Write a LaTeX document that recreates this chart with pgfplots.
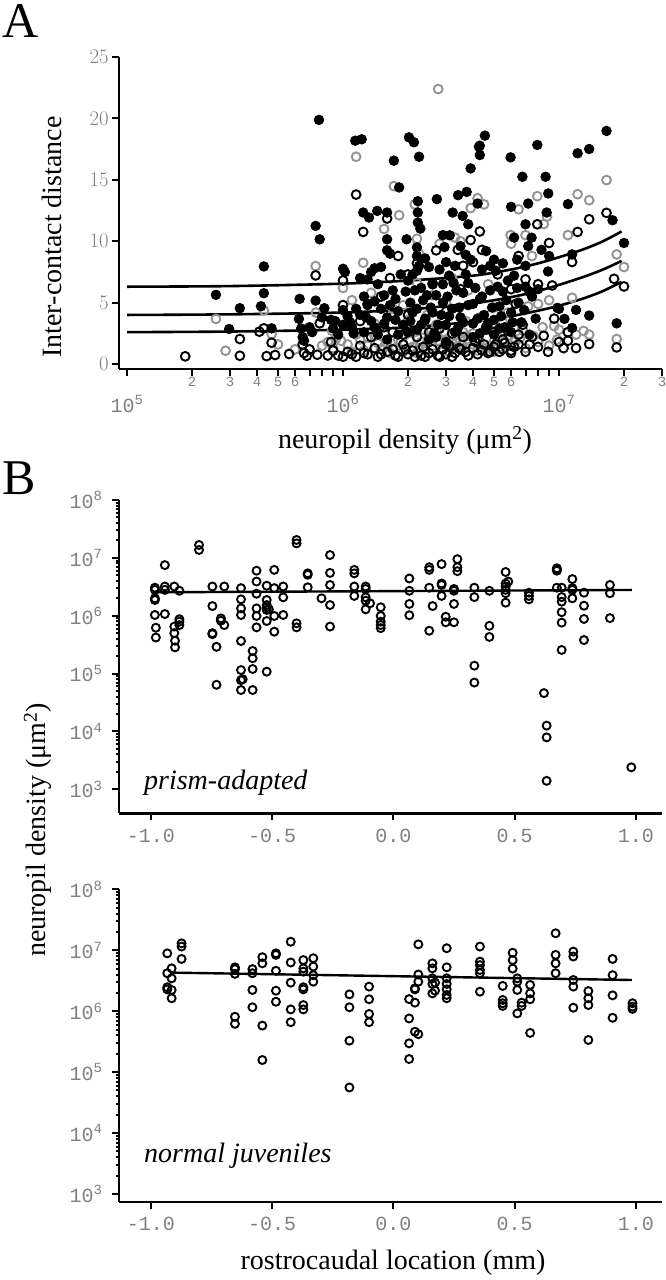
\documentclass[border=0pt]{standalone}
\usepackage{pgfplots}
\pgfplotsset{compat=1.18}
\usepackage{fontspec}
\setmainfont{Liberation Serif}
\newfontfamily\monofont{Liberation Mono}
\definecolor{tickgray}{gray}{0.5}
\definecolor{ptgray}{gray}{0.58}
\pgfplotsset{
  myaxis/.style={
    scale only axis,
    axis lines=left,
    axis line style={-, line width=2.4pt},
    tick align=outside,
    major tick length=7pt,
    tick style={black, line width=2pt},
    tick label style={font=\monofont\fontsize{20}{20}\selectfont, text=tickgray},
    clip=false,
  },
  fillA/.style={only marks, mark=*, mark size=4.8pt, mark options={draw=black, fill=black, line width=0.8pt}},
  openA/.style={only marks, mark=o, mark size=4.4pt, mark options={draw=black, line width=1.9pt}},
  grayA/.style={only marks, mark=o, mark size=4.4pt, mark options={draw=ptgray, line width=1.9pt}},
  openB/.style={only marks, mark=o, mark size=4.0pt, mark options={draw=black, line width=1.9pt}},
}
\begin{document}
\begin{tikzpicture}
\useasboundingbox (0,0) rectangle (665pt,-1280pt);
% ---------------- Panel A ----------------
\begin{axis}[myaxis, at={(119pt,-369pt)}, anchor=south west, width=543pt, height=312pt,
  xmode=log, xmin=9.18e4, xmax=3e7, ymin=-0.4, ymax=25,
  ytick={0,5,10,15,20,25},
  xtick={2e5,3e5,4e5,5e5,6e5,7e5,8e5,9e5,2e6,3e6,4e6,5e6,6e6,7e6,8e6,9e6,2e7,3e7},
  xticklabels={2,3,4,5,6,,,,2,3,4,5,6,,,,2,3},
  xticklabel style={font=\monofont\fontsize{14}{14}\selectfont, yshift=2pt},
  extra x ticks={1e5,1e6,1e7},
  extra x tick labels={10\textsuperscript{5},10\textsuperscript{6},10\textsuperscript{7}},
  extra x tick style={xticklabel style={font=\monofont\fontsize{20}{20}\selectfont, yshift=-18pt}},
]
\addplot[grayA] coordinates {
(2.58e5,3.68)(2.86e5,1.09)(4.3e5,4.36)(4.67e5,2.45)(6.6e5,2.6)(7.47e5,7.98)(7.5e5,4.2)(8.0e5,1.5)(8.5e5,1.8)(9.0e5,1.3)(9.3e5,2.1)
(1.0e6,6.2)(1.15e6,16.88)(1.24e6,8.25)(1.2e6,2.0)(1.3e6,1.5)(1.35e6,5.8)(1.4e6,2.3)(1.5e6,1.2)(1.55e6,11.0)(1.6e6,1.8)
(1.72e6,14.49)(1.82e6,12.12)(1.7e6,4.5)(1.75e6,1.3)(1.8e6,2.0)(1.9e6,1.0)(2.0e6,2.5)(2.1e6,1.4)(2.15e6,13.0)(2.2e6,10.2)
(2.25e6,9.0)(2.3e6,1.8)(2.4e6,1.1)(2.5e6,2.2)(2.6e6,1.5)(2.76e6,22.39)(2.8e6,9.8)(2.7e6,3.2)(2.9e6,1.2)(3.0e6,2.0)
(3.1e6,1.0)(3.2e6,1.8)(3.3e6,10.3)(3.4e6,2.4)(3.5e6,10.0)(3.6e6,1.3)(3.7e6,3.5)(3.8e6,2.0)(3.9e6,12.7)(4.0e6,1.6)
(4.2e6,13.5)(4.5e6,13.0)(4.6e6,2.8)(4.8e6,1.5)(5.0e6,4.6)(5.2e6,2.2)(5.6e6,1.8)(5.97e6,10.5)(6.0e6,9.8)(6.2e6,3.0)
(6.5e6,12.6)(7.0e6,10.5)(7.94e6,13.67)(7.5e6,8.8)(7.2e6,4.7)(8.0e6,4.9)(8.5e6,11.4)(8.8e6,12.0)(9.0e6,5.2)(9.5e6,3.1)
(1.0e7,2.8)(1.1e7,10.5)(1.15e7,5.4)(1.22e7,13.83)(1.38e7,13.34)(1.2e7,2.4)(1.3e7,2.7)(1.38e7,2.4)(1.66e7,14.98)(1.85e7,8.93)
(2.0e7,7.9)(1.85e7,2.04)(5.0e5,1.6)(6.0e5,1.2)(1.1e6,1.0)(1.45e6,2.7)(2.0e6,3.6)(2.45e6,4.0)(3.0e6,5.0)(3.8e6,6.0)
(4.3e6,3.8)(5.5e6,3.4)(6.6e6,2.1)(7.0e6,1.3)(8.0e6,1.8)(9.0e6,1.5)(1.25e6,1.1)(1.65e6,0.9)(2.2e6,0.9)(2.8e6,1.6)
(3.3e6,1.4)(4.2e6,1.1)(5.0e6,1.0)(6.0e6,1.5)(1.4e6,3.3)(2.35e6,2.8)(3.6e6,2.6)(4.9e6,2.7)
(1.05e6,1.6)(1.15e6,2.4)(1.3e6,2.2)(1.45e6,1.7)(1.55e6,1.4)(1.7e6,1.9)(1.85e6,1.2)(1.95e6,2.8)(2.05e6,1.9)(2.15e6,2.6)
(2.25e6,1.3)(2.45e6,1.7)(2.6e6,2.4)(2.75e6,1.9)(2.95e6,2.6)(3.15e6,2.2)(3.35e6,1.9)(3.55e6,1.6)(3.75e6,2.3)(4.0e6,2.5)
(4.3e6,1.9)(4.6e6,1.3)(5.0e6,1.9)(5.4e6,1.4)(5.8e6,2.3)(6.3e6,1.9)(6.8e6,2.8)(7.6e6,2.3)(8.4e6,3.0)(9.8e6,2.0)
(2.2e6,6.6)(2.6e6,5.6)(1.9e6,4.8)(3.2e6,7.0)(4.7e6,6.5)(5.8e6,4.2)(8.9e5,2.7)(9.8e5,1.9)(1.1e6,5.2)
};
\addplot[openA] coordinates {
(1.86e5,0.63)(3.33e5,2.04)(3.33e5,0.68)(4.1e5,2.64)(4.3e5,2.91)(4.67e5,1.74)(4.43e5,0.65)(4.85e5,0.74)(5.63e5,0.82)(6.5e5,1.6)
(6.6e5,0.9)(6.8e5,0.68)(7.47e5,7.22)(7.8e5,3.32)(7.6e5,0.76)(7.0e5,1.2)(8.5e5,0.7)(9.0e5,1.1)(9.5e5,0.7)(1.0e6,6.81)
(1.0e6,4.8)(1.15e6,13.8)(1.24e6,10.76)(1.05e6,1.0)(1.1e6,0.8)(1.2e6,1.5)(1.3e6,0.8)(1.4e6,1.3)(1.5e6,0.8)(1.6e6,11.85)
(1.8e6,8.8)(1.65e6,7.0)(1.55e6,3.0)(1.7e6,1.2)(1.75e6,0.7)(1.9e6,1.6)(2.0e6,0.8)(2.1e6,1.1)(2.2e6,8.2)(2.3e6,0.7)
(2.35e6,1.4)(2.5e6,0.9)(2.7e6,9.26)(2.75e6,0.7)(2.9e6,1.2)(3.0e6,0.8)(3.1e6,1.5)(3.3e6,0.9)(3.4e6,9.3)(3.5e6,1.2)
(3.6e6,8.0)(3.7e6,1.0)(3.9e6,10.1)(4.0e6,1.3)(4.2e6,0.8)(4.3e6,10.8)(4.4e6,9.3)(4.5e6,1.6)(4.8e6,1.0)(5.0e6,1.4)
(5.3e6,1.0)(5.6e6,1.7)(6.0e6,1.1)(6.2e6,1.4)(7.94e6,11.38)(1.38e7,11.79)(1.22e7,10.76)(9.0e6,9.86)(1.66e7,12.31)(1.8e7,6.94)
(2.0e7,6.32)(1.15e7,8.31)(6.5e6,8.8)(7.0e6,6.9)(8.0e6,6.5)(9.3e6,6.4)(1.0e7,1.8)(1.1e7,1.9)(1.2e7,1.3)(1.38e7,1.63)
(1.85e7,1.36)(7.0e6,1.0)(8.0e6,1.4)(9.5e6,3.7)(1.1e7,2.6)(2.4e6,3.6)(3.2e6,2.5)(4.6e6,3.0)(5.8e6,2.7)(1.3e6,4.9)
(2.0e6,7.3)(2.6e6,6.5)(3.5e6,6.1)(4.0e6,8.3)(5.2e6,7.3)(6.0e6,6.1)(7.5e6,2.2)(8.5e6,2.3)(1.2e6,3.5)(1.5e6,5.5)
(8.8e5,1.8)(2.2e6,2.2)(1.7e6,2.6)(2.8e6,2.9)(4.2e6,2.1)(5.5e6,2.0)(6.5e6,2.4)(2.0e6,4.0)(3.0e6,4.3)(6.3e6,4.9)
(1.0e6,0.6)(1.15e6,0.6)(1.25e6,0.9)(1.45e6,0.6)(1.6e6,1.0)(1.8e6,0.6)(1.95e6,1.2)(2.15e6,0.6)(2.4e6,0.6)(2.6e6,1.2)
(2.8e6,0.6)(3.0e6,1.6)(3.2e6,0.6)(3.45e6,1.3)(3.8e6,0.7)(4.1e6,1.8)(4.4e6,1.1)(4.7e6,0.9)(5.1e6,1.6)(5.5e6,1.2)
(6.0e6,0.9)(6.5e6,1.6)(7.3e6,1.6)(1.35e6,2.2)(1.9e6,2.4)(2.5e6,2.6)(3.6e6,2.2)(5.0e6,2.6)(6.8e6,3.2)(8.9e6,1.0)(1.05e7,1.3)
};
\addplot[fillA] coordinates {
(2.58e5,5.64)(2.97e5,2.86)(3.33e5,4.55)(4.17e5,4.71)(4.3e5,7.95)(4.3e5,5.77)(4.67e5,2.91)(6.3e5,5.31)(6.25e5,3.68)(6.4e5,2.9)
(6.5e5,2.2)(6.6e5,1.9)(7.74e5,19.88)(7.47e5,11.25)(7.8e5,10.16)(7.47e5,5.17)(8.2e5,4.55)(7.0e5,3.0)(7.2e5,2.6)(8.8e5,3.6)
(9.2e5,3.5)(9.5e5,2.4)(1.0e6,7.76)(1.02e6,7.49)(1.0e6,4.4)(1.05e6,3.9)(1.08e6,3.4)(1.1e6,3.0)(1.12e6,2.5)(1.14e6,18.19)
(1.22e6,18.3)(1.24e6,12.34)(1.32e6,11.93)(1.44e6,12.47)(1.6e6,12.34)(1.6e6,10.16)(1.6e6,9.26)(1.72e6,16.56)(1.82e6,14.38)(1.65e6,8.99)
(1.97e6,10.16)(2.02e6,18.46)(2.13e6,18.06)(2.25e6,16.88)(2.22e6,13.26)(2.22e6,12.34)(2.22e6,11.52)(2.28e6,11.03)(2.2e6,9.5)(2.2e6,8.8)
(2.25e6,8.0)(2.72e6,13.43)(3.22e6,12.34)(3.41e6,13.75)(3.74e6,14.02)(3.58e6,12.06)(3.9e6,15.93)(4.26e6,17.7)(3.8e6,11.38)(4.2e6,13.07)
(2.95e6,9.53)(3.12e6,10.48)(4.54e6,18.6)(4.3e6,17.78)(4.3e6,17.02)(5.97e6,16.83)(7.94e6,17.84)(1.66e7,18.98)(1.22e7,17.16)(1.38e7,17.51)
(6.77e6,15.25)(8.67e6,15.25)(8.92e6,13.89)(7.2e6,13.07)(1.1e7,13.02)(6.0e6,12.8)(8.77e6,12.34)(1.77e7,11.71)(7.0e6,11.38)(7.47e6,10.29)
(2.0e7,9.86)(1.15e7,8.93)(8.9e6,7.54)(9.84e6,4.58)(1.2e7,4.41)(1.38e7,3.95)(1.06e7,3.68)(1.15e7,2.94)(1.85e7,3.32)
(1.2e6,7.0)(1.3e6,6.9)(1.35e6,7.5)(1.4e6,7.8)(1.5e6,7.9)(1.45e6,6.5)(1.25e6,5.5)(1.3e6,4.8)(1.2e6,4.0)(1.35e6,3.5)
(1.4e6,3.0)(1.25e6,2.6)(1.5e6,4.5)(1.55e6,5.6)(1.6e6,3.8)(1.7e6,6.0)(1.75e6,5.3)(1.8e6,4.3)(1.85e6,7.3)(1.9e6,3.2)
(2.0e6,6.8)(2.05e6,5.0)(2.1e6,4.2)(2.1e6,7.3)(2.2e6,2.8)(2.3e6,6.2)(2.35e6,5.2)(2.4e6,3.7)(2.5e6,7.9)(2.55e6,4.6)
(2.6e6,6.6)(2.65e6,2.5)(2.7e6,5.6)(2.8e6,7.7)(2.85e6,4.0)(2.9e6,6.5)(3.0e6,3.2)(3.05e6,5.5)(3.1e6,7.2)(3.2e6,4.5)
(3.3e6,8.0)(3.35e6,6.0)(3.4e6,2.9)(3.5e6,3.8)(3.6e6,5.8)(3.7e6,7.3)(3.8e6,4.8)(3.9e6,8.5)(4.0e6,3.3)(4.1e6,6.2)
(4.3e6,5.3)(4.4e6,7.7)(4.5e6,4.0)(4.6e6,2.8)(4.8e6,6.0)(5.0e6,3.6)(5.1e6,7.6)(5.3e6,4.7)(5.5e6,5.9)(5.6e6,3.0)
(5.8e6,6.8)(6.0e6,4.2)(6.2e6,7.2)(6.5e6,5.0)(6.7e6,3.4)(7.0e6,6.3)(7.3e6,2.4)(7.5e6,5.5)(8.0e6,6.1)(8.3e6,9.3)
(7.8e6,3.7)(9.0e6,8.8)(1.0e7,4.5)(3.5e6,9.6)(4.6e6,9.2)(2.9e6,10.5)(5.5e6,8.2)(6.2e6,10.3)(7.2e6,9.6)(5.0e6,8.5)
(2.2e6,4.5)(1.8e6,2.4)(2.5e6,2.0)(3.0e6,1.8)(1.6e6,2.0)(4.0e6,2.2)(5.0e6,2.4)(6.0e6,2.6)
(1.15e6,4.5)(1.28e6,3.8)(1.4e6,5.1)(1.55e6,3.3)(1.65e6,4.8)(1.75e6,3.6)(1.95e6,5.9)(2.05e6,3.5)(2.15e6,6.0)(2.3e6,3.2)
(2.45e6,5.6)(2.6e6,4.2)(2.75e6,3.2)(2.9e6,5.0)(3.1e6,3.9)(3.25e6,6.6)(3.45e6,4.6)(3.6e6,3.4)(3.8e6,6.6)(4.0e6,4.9)
(4.2e6,3.7)(4.4e6,5.5)(4.7e6,3.3)(4.9e6,4.6)(5.2e6,6.3)(5.4e6,3.9)(5.7e6,5.2)(6.1e6,3.4)(6.4e6,6.2)(6.9e6,4.4)
(7.3e6,5.9)(2.0e6,2.6)(2.7e6,2.2)(3.3e6,2.6)(4.3e6,2.5)(5.3e6,2.9)(1.45e6,2.4)(9.0e5,2.9)(1.0e6,3.2)(8.0e5,3.8)
(2.2e6,7.6)(3.0e6,8.3)(2.4e6,8.6)(3.7e6,8.9)(4.8e6,8.0)(6.4e6,8.5)(7.0e6,8.0)
};
\addplot[black, line width=2.6pt, smooth] coordinates {(1e5,6.3)(3e5,6.35)(1e6,6.55)(2e6,6.8)(4e6,7.2)(6e6,7.7)(8e6,8.2)(1e7,8.7)(1.3e7,9.35)(1.6e7,10.0)(1.95e7,10.8)};
\addplot[black, line width=2.6pt, smooth] coordinates {(1e5,4.0)(3e5,4.05)(1e6,4.2)(2e6,4.45)(4e6,4.95)(6e6,5.45)(8e6,5.95)(1e7,6.45)(1.3e7,7.1)(1.6e7,7.7)(1.95e7,8.4)};
\addplot[black, line width=2.6pt, smooth] coordinates {(1e5,2.6)(3e5,2.65)(1e6,2.8)(2e6,3.0)(4e6,3.45)(6e6,3.9)(8e6,4.35)(1e7,4.75)(1.3e7,5.35)(1.6e7,5.95)(1.95e7,6.7)};
\end{axis}
% ---------------- Panel B top ----------------
\begin{axis}[myaxis, at={(119pt,-813.3pt)}, anchor=south west, width=542.6pt, height=313.3pt,
  xmin=-1.131, xmax=1.106, ymode=log, ymin=385, ymax=1e8,
  xtick={-1,-0.5,0,0.5,1}, xticklabels={-1.0,-0.5,0.0,0.5,1.0},
  xticklabel style={yshift=-5pt},
  ytick={1e3,1e4,1e5,1e6,1e7,1e8},
  yticklabels={10\textsuperscript{3},10\textsuperscript{4},10\textsuperscript{5},10\textsuperscript{6},10\textsuperscript{7},10\textsuperscript{8}},
  yticklabel style={xshift=-6pt},
]
\addplot[openB] coordinates {
(-0.983,3.05e6)(-0.983,2.8e6)(-0.983,2.0e6)(-0.983,1.87e6)(-0.983,1.03e6)(-0.979,6.2e5)(-0.979,4.2e5)
(-0.942,7.5e6)(-0.942,3.2e6)(-0.942,2.8e6)(-0.942,1.07e6)
(-0.903,3.2e6)(-0.903,6.5e5)(-0.903,5.0e5)(-0.900,3.7e5)(-0.900,2.84e5)
(-0.882,2.7e6)(-0.882,8.7e5)(-0.882,7.9e5)(-0.882,6.9e5)
(-0.801,1.67e7)(-0.801,1.37e7)
(-0.746,3.2e6)(-0.746,1.47e6)(-0.746,5.0e5)(-0.746,4.8e5)
(-0.729,2.9e5)(-0.729,6.4e4)
(-0.711,9.0e5)(-0.711,8.2e5)
(-0.697,3.2e6)(-0.697,6.9e5)
(-0.628,3.0e6)(-0.628,1.92e6)(-0.628,1.34e6)(-0.628,1.03e6)(-0.628,3.66e5)(-0.628,1.15e5)(-0.628,7.7e4)(-0.628,5.2e4)(-0.621,8.0e4)
(-0.580,2.46e5)(-0.580,1.84e5)(-0.580,1.2e5)(-0.580,5.2e4)
(-0.564,6.0e6)(-0.564,3.9e6)(-0.564,2.4e6)(-0.564,1.34e6)(-0.564,9.9e5)(-0.564,6.3e5)
(-0.522,3.3e6)(-0.522,1.87e6)(-0.522,1.53e6)(-0.522,1.4e6)(-0.522,1.26e6)(-0.522,8.1e5)(-0.522,1.08e5)(-0.513,1.29e6)
(-0.491,6.2e6)(-0.491,3.0e6)(-0.491,9.9e5)(-0.491,5.3e5)
(-0.454,3.2e6)(-0.454,2.08e6)(-0.454,1.03e6)
(-0.399,2.04e7)(-0.399,1.78e7)(-0.399,7.4e5)(-0.399,6.3e5)
(-0.353,5.4e6)(-0.353,5.1e6)(-0.353,3.1e6)
(-0.296,2.0e6)
(-0.261,1.12e7)(-0.261,5.5e6)(-0.261,3.4e6)(-0.261,1.53e6)(-0.261,6.5e5)
(-0.161,6.2e6)(-0.161,5.4e6)(-0.161,3.2e6)(-0.161,2.2e6)
(-0.114,3.2e6)(-0.114,2.9e6)(-0.114,2.08e6)(-0.114,1.82e6)(-0.114,1.29e6)(-0.096,1.64e6)
(-0.052,1.4e6)(-0.052,9.9e5)(-0.052,7.9e5)(-0.052,6.9e5)(-0.052,6.1e5)
(0.066,4.4e6)(0.066,2.7e6)(0.066,1.6e6)(0.066,1.02e6)
(0.148,6.9e6)(0.148,6.2e6)(0.148,3.05e6)(0.148,5.5e5)(0.162,1.47e6)
(0.199,7.8e6)(0.199,3.6e6)(0.199,3.4e6)(0.199,2.2e6)
(0.216,9.6e5)(0.216,7.7e5)
(0.250,2.9e6)(0.250,2.7e6)(0.250,1.6e6)(0.250,7.7e5)
(0.264,9.5e6)(0.264,6.9e6)(0.264,5.9e6)
(0.334,3.05e6)(0.334,2.1e6)(0.334,1.37e5)(0.334,7.0e4)
(0.396,2.7e6)(0.396,6.7e5)(0.396,4.3e5)
(0.463,5.7e6)(0.463,3.6e6)(0.463,3.2e6)(0.463,2.8e6)(0.463,2.45e6)(0.463,1.68e6)(0.474,3.9e6)
(0.559,2.5e6)(0.559,2.2e6)(0.559,1.92e6)
(0.621,4.6e4)(0.632,1.26e4)(0.632,7.9e3)(0.632,1.4e3)
(0.674,6.6e6)(0.674,6.2e6)(0.674,6.0e6)(0.674,3.05e6)
(0.694,3.05e6)(0.694,2.1e6)(0.694,1.75e6)(0.694,1.15e6)(0.694,7.6e5)(0.694,2.56e5)
(0.738,4.3e6)(0.738,3.0e6)(0.738,2.8e6)(0.738,2.0e6)
(0.786,2.5e6)(0.786,1.49e6)(0.786,8.8e5)(0.786,3.8e5)
(0.893,3.4e6)(0.893,2.45e6)(0.893,9.1e5)
(0.981,2.4e3)
};
\addplot[black, line width=2.4pt] coordinates {(-0.99,2.54e6)(0.983,2.79e6)};
\node[anchor=base west, font=\itshape\fontsize{28}{30}\selectfont, inner sep=0pt] at (rel axis cs:0.046,0.075) {prism-adapted};
\end{axis}
% ---------------- Panel B bottom ----------------
\begin{axis}[myaxis, at={(119pt,-1201.7pt)}, anchor=south west, width=542.6pt, height=312.4pt,
  xmin=-1.131, xmax=1.106, ymode=log, ymin=748, ymax=1e8,
  xtick={-1,-0.5,0,0.5,1}, xticklabels={-1.0,-0.5,0.0,0.5,1.0},
  xticklabel style={yshift=-5pt},
  ytick={1e3,1e4,1e5,1e6,1e7,1e8},
  yticklabels={10\textsuperscript{3},10\textsuperscript{4},10\textsuperscript{5},10\textsuperscript{6},10\textsuperscript{7},10\textsuperscript{8}},
  yticklabel style={xshift=-6pt},
]
\addplot[openB] coordinates {
(-0.932,8.9e6)(-0.932,4.2e6)(-0.932,2.47e6)(-0.932,2.28e6)
(-0.914,5.05e6)(-0.914,3.46e6)(-0.914,2.23e6)(-0.914,1.63e6)
(-0.873,1.3e7)(-0.873,1.15e7)(-0.873,7.2e6)
(-0.653,5.25e6)(-0.653,4.9e6)(-0.653,4.1e6)(-0.653,8.1e5)(-0.653,6.2e5)
(-0.581,4.9e6)(-0.581,4.2e6)(-0.581,2.23e6)(-0.581,1.16e6)
(-0.540,7.7e6)(-0.540,6.1e6)(-0.540,5.8e5)(-0.540,1.58e5)
(-0.484,8.9e6)(-0.484,8.4e6)(-0.484,4.6e6)(-0.484,2.17e6)(-0.484,1.43e6)
(-0.423,1.38e7)(-0.423,6.3e6)(-0.423,2.94e6)(-0.423,1.07e6)(-0.423,6.6e5)
(-0.371,6.9e6)(-0.371,5.05e6)(-0.371,4.45e6)(-0.371,2.47e6)(-0.371,2.28e6)(-0.371,1.26e6)(-0.371,1.07e6)
(-0.330,7.4e6)(-0.330,5.4e6)(-0.330,3.9e6)(-0.330,3.05e6)
(-0.181,1.89e6)(-0.181,1.16e6)(-0.181,3.28e5)(-0.181,5.6e4)
(-0.100,2.53e6)(-0.100,1.57e6)(-0.100,9.0e5)(-0.100,6.6e5)
(0.065,1.58e6)(0.065,7.6e5)(0.065,2.97e5)(0.065,1.64e5)
(0.089,2.37e6)(0.089,2.28e6)(0.089,1.38e6)(0.089,4.6e5)
(0.103,1.25e7)(0.103,4.0e6)(0.103,3.05e6)(0.103,4.2e5)
(0.161,6.1e6)(0.161,5.05e6)(0.161,3.46e6)(0.161,2.8e6)(0.161,1.96e6)
(0.172,2.94e6)(0.172,2.17e6)
(0.220,1.08e7)(0.220,5.25e6)(0.220,3.46e6)(0.220,2.8e6)(0.220,2.28e6)(0.220,1.85e6)(0.220,1.63e6)
(0.357,1.15e7)(0.357,6.5e6)(0.357,5.7e6)(0.357,4.75e6)(0.357,4.2e6)(0.357,2.09e6)
(0.451,2.6e6)(0.451,1.53e6)(0.451,1.35e6)(0.451,1.22e6)
(0.492,9.1e6)(0.492,6.9e6)(0.492,5.0e6)
(0.511,3.46e6)(0.511,3.05e6)(0.511,2.23e6)(0.511,9.2e5)
(0.529,1.38e6)(0.529,1.22e6)
(0.564,2.7e6)(0.564,1.96e6)(0.564,1.57e6)(0.564,4.4e5)
(0.669,1.9e7)(0.669,8.4e6)(0.669,6.1e6)(0.669,4.2e6)
(0.742,9.5e6)(0.742,7.9e6)(0.742,3.25e6)(0.742,2.53e6)(0.742,1.14e6)
(0.804,2.14e6)(0.804,1.63e6)(0.804,1.26e6)(0.804,3.37e5)
(0.904,7.2e6)(0.904,3.9e6)(0.904,1.82e6)(0.904,7.8e5)
(0.986,1.35e6)(0.986,1.19e6)(0.986,1.09e6)
};
\addplot[black, line width=2.4pt] coordinates {(-0.921,4.3e6)(0.983,3.25e6)};
\node[anchor=base west, font=\itshape\fontsize{28}{30}\selectfont, inner sep=0pt] at (rel axis cs:0.046,0.125) {normal juveniles};
\end{axis}
% ---------------- Labels ----------------
\node[font=\fontsize{50}{50}\selectfont, anchor=north west, inner sep=0pt] at (2pt,-4pt) {A};
\node[font=\fontsize{50}{50}\selectfont, anchor=north west, inner sep=0pt] at (2pt,-462pt) {B};
\node[font=\fontsize{28}{30}\selectfont, rotate=90] at (52pt,-237pt) {Inter-contact distance};
\node[font=\fontsize{28}{30}\selectfont] at (405pt,-441pt) {neuropil density (μm\textsuperscript{2})};
\node[font=\fontsize{28}{30}\selectfont, rotate=90] at (38pt,-830pt) {neuropil density (μm\textsuperscript{2})};
\node[font=\fontsize{28}{30}\selectfont] at (393pt,-1263pt) {rostrocaudal location (mm)};
\end{tikzpicture}
\end{document}
